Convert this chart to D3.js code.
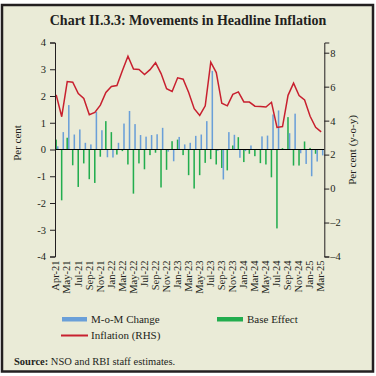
<!DOCTYPE html>
<html>
<head>
<meta charset="utf-8">
<script src="https://cdn.jsdelivr.net/npm/d3@7"></script>
<style>
  body { margin: 0; background: #fff; }
  text { font-family: "Liberation Serif", "DejaVu Serif", serif; fill: #231f20; }
</style>
</head>
<body>
<svg id="chart" width="376" height="376"></svg>
<script>
// categories: Mar-21 .. Mar-25
const months = [
  "Mar-21","Apr-21","May-21","Jun-21","Jul-21","Aug-21","Sep-21","Oct-21","Nov-21","Dec-21",
  "Jan-22","Feb-22","Mar-22","Apr-22","May-22","Jun-22","Jul-22","Aug-22","Sep-22","Oct-22","Nov-22","Dec-22",
  "Jan-23","Feb-23","Mar-23","Apr-23","May-23","Jun-23","Jul-23","Aug-23","Sep-23","Oct-23","Nov-23","Dec-23",
  "Jan-24","Feb-24","Mar-24","Apr-24","May-24","Jun-24","Jul-24","Aug-24","Sep-24","Oct-24","Nov-24","Dec-24",
  "Jan-25","Feb-25","Mar-25"
];
// tick labels as printed on the chart (every second category)
const tickLabels = [
  "Apr-21","May-21","Jul-21","Sep-21","Nov-21","Jan-22","Mar-22","May-22","Jul-22","Sep-22",
  "Nov-22","Jan-23","Mar-23","May-23","Jul-23","Sep-23","Nov-23","Jan-24","Mar-24","May-24",
  "Jul-24","Sep-24","Nov-24","Jan-25","Mar-25"
];
// M-o-M change (LHS)
const momChange = [
  0.12, 0.65, 1.66, 0.56, 0.75, 0.25, 0.19, 1.41, 0.72, -0.29,
  -0.30, 0.25, 0.97, 1.44, 0.95, 0.54, 0.48, 0.54, 0.57, 0.81, -0.08, -0.44,
  0.47, 0.19, 0.25, 0.51, 0.56, 1.06, 2.94, -0.05, -1.12, 0.65, 0.55, -0.31,
  -0.06, 0.15, 0.02, 0.49, 0.52, 1.31, 1.46, 0.02, 0.61, 1.34, -0.14, -0.54,
  -1.00, -0.45, -0.22
];
// base effect (LHS)
const baseEffect = [
  0.37, -1.90, 0.44, -0.59, -1.40, -0.52, -1.11, -1.25, -0.27, 1.06,
  0.65, -0.19, -0.06, -0.56, -1.65, -0.52, -0.74, -0.21, -0.12, -1.42, -0.76, 0.31,
  0.37, -0.21, -0.96, -1.46, -0.96, -0.50, -0.36, -0.56, -0.69, -0.78, 0.15, 0.46,
  -0.47, -0.16, -0.25, -0.51, -0.56, -1.04, -2.95, 0.05, 1.21, -0.60, -0.60, 0.30,
  0.06, -0.16, 0.00
];
// headline inflation y-o-y (RHS)
const inflation = [
  5.52, 4.23, 6.30, 6.26, 5.59, 5.30, 4.35, 4.48, 4.91, 5.66,
  6.01, 6.07, 6.95, 7.79, 7.04, 7.01, 6.71, 7.00, 7.41, 6.77, 5.88, 5.72,
  6.52, 6.44, 5.66, 4.70, 4.31, 4.87, 7.44, 6.83, 5.02, 4.87, 5.55, 5.69,
  5.10, 5.09, 4.85, 4.83, 4.80, 5.08, 3.60, 3.65, 5.49, 6.21, 5.48, 5.22,
  4.26, 3.61, 3.34
];
const leftTicks = [-4, -3, -2, -1, 0, 1, 2, 3, 4];
const rightTicks = [-4, -2, 0, 2, 4, 6, 8];

const colMom = "#6a9fd8", colBase = "#22ad4e", colInf = "#c8202f";

const svg = d3.select("#chart");

// frame
svg.append("rect").attr("x", 2).attr("y", 5).attr("width", 371).attr("height", 366.5)
  .attr("fill", "#eaebd7").attr("stroke", "#231f20").attr("stroke-width", 2.5);

svg.append("text").attr("x", 188).attr("y", 24.5).attr("text-anchor", "middle")
  .style("font-weight", "bold").style("font-size", "14px")
  .text("Chart II.3.3: Movements in Headline Inflation");

const plotTop = 42.5, plotBottom = 256.5, plotLeft = 55, plotRight = 324.3;

const x = d3.scaleBand().domain(months).range([54.3, 54.3 + 49 * 5.52]).padding(0);
const xSub = d3.scaleBand().domain(["base", "mom"]).range([1.0, 4.3]).padding(0.05);
const yL = d3.scaleLinear().domain([-4, 4]).range([plotBottom, plotTop]);
const yR = d3.scaleLinear().domain([-4, 8.6]).range([plotBottom, plotTop]);

const rows = months.map((m, i) => ({ m, mom: momChange[i], base: baseEffect[i], inf: inflation[i] }));

// bars
const g = svg.append("g");
g.selectAll("rect.base").data(rows).enter().append("rect")
  .attr("class", "base")
  .attr("x", d => x(d.m) + xSub("base"))
  .attr("width", xSub.bandwidth())
  .attr("y", d => yL(Math.max(0, d.base)))
  .attr("height", d => Math.abs(yL(d.base) - yL(0)))
  .attr("fill", colBase);
g.selectAll("rect.mom").data(rows).enter().append("rect")
  .attr("class", "mom")
  .attr("x", d => x(d.m) + xSub("mom"))
  .attr("width", xSub.bandwidth())
  .attr("y", d => yL(Math.max(0, d.mom)))
  .attr("height", d => Math.abs(yL(d.mom) - yL(0)))
  .attr("fill", colMom);

// zero line
svg.append("line").attr("x1", plotLeft).attr("x2", plotRight)
  .attr("y1", yL(0)).attr("y2", yL(0)).attr("stroke", "#000").attr("stroke-width", 1);

// inflation line
const line = d3.line().x(d => x(d.m) + 1.9).y(d => yR(d.inf)).curve(d3.curveLinear);
svg.append("path").datum(rows).attr("d", line)
  .attr("fill", "none").attr("stroke", colInf).attr("stroke-width", 1.5);

// axes
const axL = svg.append("g").attr("transform", `translate(${plotLeft},0)`)
  .call(d3.axisLeft(yL).tickValues(leftTicks).tickSize(5).tickPadding(4).tickFormat(d => String(d)));
const axR = svg.append("g").attr("transform", `translate(${plotRight},0)`)
  .call(d3.axisRight(yR).tickValues(rightTicks).tickSize(5).tickPadding(1)
    .tickFormat(d => d < 0 ? "\u2013" + (-d) : String(d)));
[axL, axR].forEach(a => {
  a.select(".domain").attr("stroke", "#231f20");
  a.selectAll(".tick line").attr("stroke", "#231f20");
  a.selectAll("text").style("font-family", "Liberation Serif, serif").style("font-size", "10.5px").attr("fill", "#231f20");
});

const labelMonths = months.filter((m, i) => i % 2 === 0);
const axB = svg.append("g").attr("transform", `translate(-1.3,${plotBottom + 2})`)
  .call(d3.axisBottom(x).tickValues(labelMonths).tickSize(0)
    .tickFormat(m => tickLabels[labelMonths.indexOf(m)]));
axB.select(".domain").remove();
axB.selectAll("text")
  .style("font-family", "Liberation Serif, serif").style("font-size", "10.5px").attr("fill", "#231f20")
  .attr("text-anchor", "end").attr("transform", "rotate(-90)")
  .attr("x", -2).attr("y", 0).attr("dy", "0.35em");

// axis titles
svg.append("text").attr("transform", "translate(21,143) rotate(-90)").attr("text-anchor", "middle")
  .style("font-size", "11px").text("Per cent");
svg.append("text").attr("transform", "translate(356,150) rotate(-90)").attr("text-anchor", "middle")
  .style("font-size", "11px").text("Per cent (y-o-y)");

// legend
const leg = svg.append("g").style("font-size", "11px");
leg.append("rect").attr("x", 62).attr("y", 317).attr("width", 25).attr("height", 4.5).attr("fill", colMom);
leg.append("text").attr("x", 91).attr("y", 323).text("M-o-M Change");
leg.append("rect").attr("x", 217).attr("y", 317).attr("width", 26).attr("height", 4.5).attr("fill", colBase);
leg.append("text").attr("x", 247).attr("y", 323).text("Base Effect");
leg.append("line").attr("x1", 61).attr("x2", 88).attr("y1", 335.5).attr("y2", 335.5)
  .attr("stroke", colInf).attr("stroke-width", 2);
leg.append("text").attr("x", 91).attr("y", 339).text("Inflation (RHS)");

// source
const src = svg.append("text").attr("x", 14).attr("y", 365).style("font-size", "10.5px");
src.append("tspan").style("font-weight", "bold").text("Source: ");
src.append("tspan").text("NSO and RBI staff estimates.");
</script>
</body>
</html>
